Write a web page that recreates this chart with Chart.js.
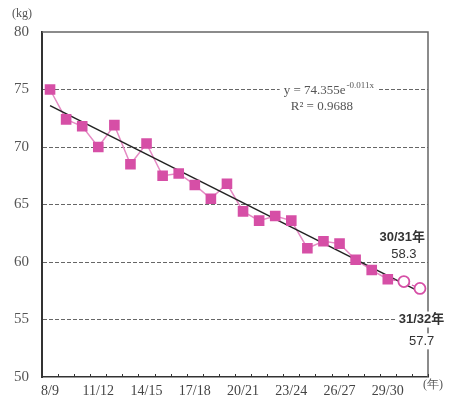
<!DOCTYPE html>
<html>
<head>
<meta charset="utf-8">
<style>
  html, body { margin: 0; padding: 0; background: #fff; }
  #wrap { width: 451px; height: 405px; position: relative; }
</style>
<script src="https://cdn.jsdelivr.net/npm/chart.js@4/dist/chart.umd.min.js"></script>
</head>
<body>
<div id="wrap"><canvas id="chart"></canvas></div>
<script>
// school years (年度)
var labels = ['8/9', '9/10', '10/11', '11/12', '12/13', '13/14', '14/15', '15/16',
    '16/17', '17/18', '18/19', '19/20', '20/21', '21/22', '22/23', '23/24',
    '24/25', '25/26', '26/27', '27/28', '28/29', '29/30', '30/31', '31/32'];

// measured weight (kg)
var weights = [75.0, 72.4, 71.8, 70.0, 71.9, 68.5, 70.3, 67.5, 67.7, 66.7, 65.5,
    66.8, 64.4, 63.6, 64.0, 63.6, 61.2, 61.8, 61.6, 60.2, 59.3, 58.5];

// projected values for the last two years
var projLabels = ['30/31', '31/32'];
var projValues = [58.3, 57.7];

// trend line end points
var trendStart = 73.6;
var trendEnd = 57.4;

var yTicks = [50, 55, 60, 65, 70, 75, 80];

var PINK = '#d64fa6';
var PINK_LINE = '#e58ac4';
var SERIF = '"Liberation Serif", "DejaVu Serif", serif';
var SANS = '"Liberation Sans", "Noto Sans CJK JP", sans-serif';

var actual = labels.map((l, i) => i < weights.length ? weights[i] : null);
var projection = labels.map((l) => {
    let k = projLabels.indexOf(l);
    if (k >= 0) return projValues[k];
    if (l === labels[weights.length - 1]) return weights[weights.length - 1];
    return null;
});
var trend = labels.map((l, i) => i === 0 ? trendStart : (i === labels.length - 1 ? trendEnd : null));

function textBox(ctx, text, x, y, font, color, bg) {
    ctx.font = font;
    ctx.textAlign = 'center';
    ctx.textBaseline = 'middle';
    if (bg) {
        let w = ctx.measureText(text).width;
        ctx.fillStyle = '#fff';
        ctx.fillRect(x - w / 2 - 3, y - 8, w + 6, 16);
    }
    ctx.fillStyle = color;
    ctx.fillText(text, x, y);
}

var framePlugin = {
    id: 'frame',
    beforeDatasetsDraw(chart) {
        const ctx = chart.ctx, a = chart.chartArea, xs = chart.scales.x;
        ctx.save();
        // top + right frame
        ctx.strokeStyle = '#666';
        ctx.lineWidth = 1.5;
        ctx.beginPath();
        ctx.moveTo(a.left, a.top);
        ctx.lineTo(a.right, a.top);
        ctx.lineTo(a.right, a.bottom);
        ctx.stroke();
        // small inward ticks between categories
        ctx.strokeStyle = '#333';
        ctx.lineWidth = 1;
        const step = xs.getPixelForValue(1) - xs.getPixelForValue(0);
        for (let i = 0; i < labels.length; i++) {
            let px = Math.round(xs.getPixelForValue(i) + step / 2) + 0.5;
            ctx.beginPath();
            ctx.moveTo(px, a.bottom);
            ctx.lineTo(px, a.bottom - 3);
            ctx.stroke();
        }
        ctx.restore();
    },
    afterDatasetsDraw(chart) {
        const ctx = chart.ctx, a = chart.chartArea;
        const xs = chart.scales.x, ys = chart.scales.y;
        ctx.save();
        // regression text on the 75 gridline
        let ex = xs.getPixelForValue(17.3), ey = ys.getPixelForValue(75);
        ctx.font = '13px ' + SERIF;
        let main = 'y = 74.355e', sup = '-0.011x';
        let w1 = ctx.measureText(main).width;
        ctx.font = '9px ' + SERIF;
        let w2 = ctx.measureText(sup).width;
        ctx.fillStyle = '#fff';
        ctx.fillRect(ex - (w1 + w2) / 2 - 4, ey - 8, w1 + w2 + 8, 16);
        ctx.fillStyle = '#555';
        ctx.textBaseline = 'middle';
        ctx.textAlign = 'left';
        ctx.font = '13px ' + SERIF;
        ctx.fillText(main, ex - (w1 + w2) / 2, ey + 1);
        ctx.font = '9px ' + SERIF;
        ctx.fillText(sup, ex - (w1 + w2) / 2 + w1 + 1, ey - 4);
        textBox(ctx, 'R\u00b2 = 0.9688', xs.getPixelForValue(16.9), ys.getPixelForValue(73.5),
            '13px ' + SERIF, '#555', false);

        // projection labels
        textBox(ctx, '30/31年', xs.getPixelForValue(21.9), ys.getPixelForValue(62.1),
            'bold 13px ' + SANS, '#333', false);
        textBox(ctx, '58.3', xs.getPixelForValue(22), ys.getPixelForValue(60.7),
            '13px ' + SANS, '#333', false);
        textBox(ctx, '31/32年', xs.getPixelForValue(23.1), ys.getPixelForValue(55),
            'bold 13px ' + SANS, '#333', true);
        textBox(ctx, '57.7', xs.getPixelForValue(23.1), ys.getPixelForValue(53.1),
            '13px ' + SANS, '#333', true);

        // units
        textBox(ctx, '(kg)', 22, 14, '12px ' + SERIF, '#555', false);
        textBox(ctx, '(年)', a.right + 5, a.bottom + 8, '12px ' + SERIF, '#555', false);
        ctx.restore();
    }
};

var ctx = document.getElementById('chart').getContext('2d');
new Chart(ctx, {
    type: 'line',
    data: {
        labels: labels,
        datasets: [
            {
                label: 'points',
                data: actual,
                showLine: false,
                pointStyle: 'rect',
                pointRadius: 7.5,
                backgroundColor: PINK,
                borderColor: PINK,
                borderWidth: 0,
                order: 0
            },
            {
                label: 'projection',
                data: projection,
                borderColor: PINK,
                borderWidth: 1.2,
                borderDash: [3, 2],
                pointStyle: 'circle',
                pointRadius: (c) => c.dataIndex < weights.length ? 0 : 5.5,
                pointBorderWidth: 1.8,
                pointBackgroundColor: '#fff',
                pointBorderColor: PINK,
                order: 0
            },
            {
                label: 'trend',
                data: trend,
                spanGaps: true,
                borderColor: '#222',
                borderWidth: 1.5,
                pointRadius: 0,
                order: 1
            },
            {
                label: 'line',
                data: actual,
                borderColor: PINK_LINE,
                borderWidth: 1.5,
                pointRadius: 0,
                order: 2
            }
        ]
    },
    options: {
        responsive: true,
        maintainAspectRatio: false,
        animation: false,
        layout: { padding: { top: 32, right: 23, left: 0, bottom: 0 } },
        plugins: { legend: { display: false }, tooltip: { enabled: false } },
        scales: {
            x: {
                offset: true,
                afterFit: (s) => { s.height = 28; },
                grid: { display: false, drawTicks: false },
                border: { display: true, color: '#333', width: 1.5 },
                ticks: {
                    autoSkip: false,
                    maxRotation: 0,
                    padding: 6,
                    color: '#444',
                    font: { family: SERIF, size: 14 },
                    callback: (v, i) => (i % 3 === 0 && i < weights.length) ? labels[i] : ''
                }
            },
            y: {
                min: 50,
                max: 80,
                afterFit: (s) => { s.width = 42; },
                afterBuildTicks: (s) => { s.ticks = yTicks.map((v) => ({ value: v })); },
                grid: {
                    drawTicks: false,
                    color: (c) => (c.tick && (c.tick.value === 50 || c.tick.value === 80)) ? 'rgba(0,0,0,0)' : '#666',
                    lineWidth: 1
                },
                border: { display: true, color: '#333', width: 2, dash: [4, 2] },
                ticks: {
                    padding: 13,
                    color: '#555',
                    font: { family: SERIF, size: 15 }
                }
            }
        }
    },
    plugins: [framePlugin]
});
</script>
</body>
</html>
